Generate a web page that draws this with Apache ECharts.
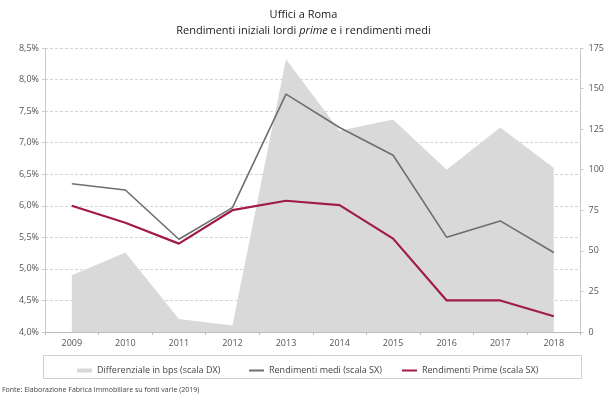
<!DOCTYPE html>
<html>
<head>
<meta charset="utf-8">
<script src="https://cdn.jsdelivr.net/npm/echarts@6/dist/echarts.min.js"></script>
<style>
  html, body { margin: 0; padding: 0; background: #fff; }
  #chart { width: 607px; height: 396px; }
</style>
</head>
<body>
<div id="chart"></div>
<script>
// Anni
const years = ['2009', '2010', '2011', '2012', '2013', '2014', '2015', '2016', '2017', '2018'];
// Differenziale in punti base (scala DX)
const differenziale = [35, 49, 8, 4, 168, 124, 131, 100, 126, 101];
// Rendimenti medi, % (scala SX)
const rendimentiMedi = [6.35, 6.25, 5.47, 5.97, 7.77, 7.24, 6.80, 5.50, 5.76, 5.26];
// Rendimenti prime, % (scala SX)
const rendimentiPrime = [6.0, 5.73, 5.40, 5.93, 6.08, 6.01, 5.48, 4.50, 4.50, 4.25];

const FONT = 'Open Sans';
const AREA = '#d9d9d9';
const GREY = '#6e6e6e';
const RED = '#a11b48';

const chart = echarts.init(document.getElementById('chart'), null, { renderer: 'canvas' });

const legendBase = {
  top: 361,
  itemWidth: 15,
  itemGap: 3,
  textStyle: { fontFamily: FONT, fontSize: 9, color: '#444' },
  selectedMode: false
};

chart.setOption({
  backgroundColor: '#fff',
  animation: false,
  title: [
    {
      text: 'Uffici a Roma',
      left: 'center',
      top: 4,
      textStyle: { fontFamily: FONT, fontSize: 11, fontWeight: 'normal', color: '#222' }
    },
    {
      text: '{a|Rendimenti iniziali lordi }{i|prime}{a| e i rendimenti medi}',
      left: 'center',
      top: 20,
      textStyle: {
        fontWeight: 'normal',
        rich: {
          a: { fontFamily: FONT, fontSize: 11, fontWeight: 'normal', color: '#222' },
          i: { fontFamily: FONT, fontSize: 11, fontWeight: 'normal', color: '#222', fontStyle: 'italic' }
        }
      }
    },
    {
      text: 'Fonte: Elaborazione Fabrica Immobiliare su fonti varie (2019)',
      left: 2,
      top: 386,
      padding: 0,
      textStyle: { fontFamily: FONT, fontSize: 7, fontWeight: 'normal', color: '#444' }
    }
  ],
  legend: [
    Object.assign({}, legendBase, {
      left: 72, itemHeight: 4,
      data: [{ name: 'Differenziale in bps (scala DX)', icon: 'rect' }]
    }),
    Object.assign({}, legendBase, {
      left: 244, itemHeight: 2,
      data: [{ name: 'Rendimenti medi (scala SX)', icon: 'rect' }]
    }),
    Object.assign({}, legendBase, {
      left: 397, itemHeight: 2,
      data: [{ name: 'Rendimenti Prime (scala SX)', icon: 'rect' }]
    })
  ],
  graphic: [
    {
      type: 'rect',
      shape: { x: 43.5, y: 355.5, width: 538, height: 23 },
      style: { fill: 'none', stroke: '#cfcfcf', lineWidth: 1 },
      silent: true
    }
  ],
  grid: { left: 45, right: 26, top: 48, bottom: 64 },
  xAxis: {
    type: 'category',
    data: years,
    boundaryGap: true,
    axisLine: { lineStyle: { color: '#bdbdbd', width: 1 } },
    axisTick: { show: true, length: 3, lineStyle: { color: '#bdbdbd' } },
    axisLabel: { fontFamily: FONT, fontSize: 9, color: '#555', margin: 7 }
  },
  yAxis: [
    {
      type: 'value',
      min: 4.0,
      max: 8.5,
      interval: 0.5,
      position: 'left',
      axisLine: { show: true, lineStyle: { color: '#c8c8c8' } },
      axisTick: { show: true, length: 3, lineStyle: { color: '#c8c8c8' } },
      axisLabel: {
        fontFamily: FONT, fontSize: 9, color: '#555', margin: 6,
        formatter: v => v.toFixed(1).replace('.', ',') + '%'
      },
      splitLine: { show: true, lineStyle: { color: '#d4d4d4', type: [3, 2], width: 1 } }
    },
    {
      type: 'value',
      min: 0,
      max: 175,
      interval: 25,
      position: 'right',
      axisLine: { show: true, lineStyle: { color: '#c8c8c8' } },
      axisTick: { show: true, length: 3, lineStyle: { color: '#c8c8c8' } },
      axisLabel: { fontFamily: FONT, fontSize: 9, color: '#555', margin: 8 },
      splitLine: { show: false }
    }
  ],
  series: [
    {
      name: 'Differenziale in bps (scala DX)',
      type: 'line',
      yAxisIndex: 1,
      data: differenziale,
      symbol: 'none',
      lineStyle: { width: 0, color: AREA },
      itemStyle: { color: AREA },
      areaStyle: { color: AREA, opacity: 1 },
      z: 1
    },
    {
      name: 'Rendimenti medi (scala SX)',
      type: 'line',
      yAxisIndex: 0,
      data: rendimentiMedi,
      symbol: 'none',
      lineStyle: { width: 1.6, color: GREY },
      itemStyle: { color: GREY },
      z: 3
    },
    {
      name: 'Rendimenti Prime (scala SX)',
      type: 'line',
      yAxisIndex: 0,
      data: rendimentiPrime,
      symbol: 'none',
      lineStyle: { width: 2.2, color: RED },
      itemStyle: { color: RED },
      z: 4
    }
  ]
});
</script>
</body>
</html>
